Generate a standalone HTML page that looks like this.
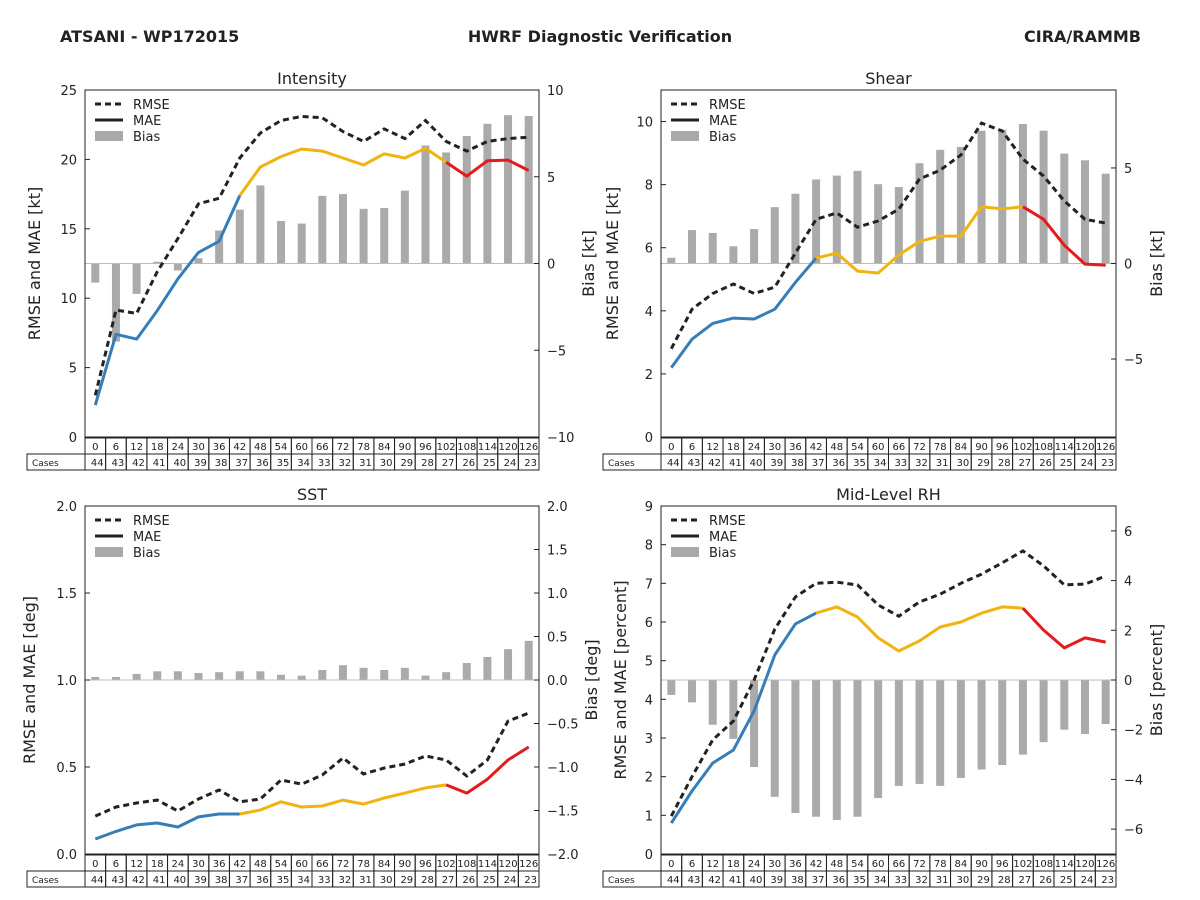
<!DOCTYPE html>
<html><head><meta charset="utf-8">
<style>
body{margin:0;background:#fff;}
svg{display:block;font-family:"DejaVu Sans","Liberation Sans",sans-serif;}
</style></head>
<body>
<svg id="chart" width="1200" height="900" viewBox="0 0 1200 900">
<text x="60" y="42" font-size="16" font-weight="bold" fill="#222">ATSANI - WP172015</text>
<text x="600" y="42" font-size="16" font-weight="bold" fill="#222" text-anchor="middle">HWRF Diagnostic Verification</text>
<text x="1141" y="42" font-size="16" font-weight="bold" fill="#222" text-anchor="end">CIRA/RAMMB</text>
</svg>
<script>
const leads=[0,6,12,18,24,30,36,42,48,54,60,66,72,78,84,90,96,102,108,114,120,126];
const cases=[44,43,42,41,40,39,38,37,36,35,34,33,32,31,30,29,28,27,26,25,24,23];
const intMAE=[2.3,7.4,7.05,9.1,11.4,13.3,14.1,17.4,19.45,20.2,20.75,20.6,20.1,19.6,20.4,20.1,20.8,19.8,18.8,19.9,19.95,19.2];
const intRMSE=[3.0,9.15,8.9,11.9,14.3,16.8,17.2,20.1,21.9,22.8,23.1,23.0,22.0,21.3,22.2,21.5,22.8,21.3,20.6,21.3,21.5,21.6];
const intBias=[-1.1,-4.5,-1.75,0.1,-0.4,0.3,1.9,3.1,4.5,2.45,2.3,3.9,4.0,3.15,3.2,4.2,6.8,6.4,7.35,8.05,8.55,8.5];
const shrMAE=[2.2,3.1,3.6,3.77,3.74,4.05,4.9,5.67,5.83,5.26,5.2,5.77,6.2,6.37,6.37,7.3,7.23,7.3,6.9,6.08,5.48,5.45];
const shrRMSE=[2.8,4.05,4.55,4.85,4.55,4.75,5.83,6.9,7.1,6.65,6.85,7.22,8.18,8.46,8.94,9.95,9.7,8.81,8.27,7.48,6.9,6.78];
const shrBias=[0.3,1.75,1.6,0.9,1.8,2.95,3.65,4.4,4.6,4.85,4.15,4.0,5.25,5.95,6.1,6.95,7.0,7.3,6.95,5.75,5.4,4.7];
const sstMAE=[0.086,0.13,0.167,0.178,0.155,0.213,0.23,0.23,0.253,0.3,0.27,0.276,0.31,0.287,0.322,0.35,0.38,0.397,0.35,0.43,0.54,0.615];
const sstRMSE=[0.218,0.27,0.293,0.31,0.247,0.316,0.368,0.3,0.316,0.425,0.402,0.454,0.552,0.46,0.494,0.517,0.563,0.54,0.448,0.54,0.764,0.81];
const sstBias=[0.035,0.035,0.07,0.1,0.1,0.08,0.09,0.1,0.1,0.06,0.05,0.115,0.17,0.14,0.115,0.14,0.05,0.09,0.195,0.265,0.355,0.45];
const rhMAE=[0.8,1.63,2.35,2.69,3.7,5.15,5.95,6.23,6.39,6.13,5.59,5.25,5.51,5.87,6.0,6.23,6.39,6.36,5.79,5.33,5.59,5.48];
const rhRMSE=[0.98,2.0,2.95,3.44,4.5,5.82,6.65,7.0,7.03,6.96,6.44,6.15,6.52,6.72,7.0,7.24,7.53,7.84,7.45,6.96,6.98,7.19];
const rhBias=[-0.6,-0.9,-1.8,-2.37,-3.5,-4.7,-5.35,-5.5,-5.63,-5.5,-4.75,-4.26,-4.18,-4.26,-3.94,-3.6,-3.42,-3.0,-2.5,-2.0,-2.17,-1.77];

const svg=document.getElementById('chart');
const NS='http://www.w3.org/2000/svg';
function mk(tag,attrs,parent,text){const e=document.createElementNS(NS,tag);for(const k in attrs)e.setAttribute(k,attrs[k]);if(text!==undefined)e.textContent=text;(parent||svg).appendChild(e);return e;}
function fmt(v,d){const s=v.toFixed(d);return s.replace('-','\u2212');}

const panels=[
 {key:'intensity',title:'Intensity',x0:85,x1:539,y0:90,y1:437,lmin:0,lmax:25,lt:[0,5,10,15,20,25],ld:0,rmin:-10,rmax:10,rt:[-10,-5,0,5,10],rd:0,ll:'RMSE and MAE [kt]',rl:'Bias [kt]',llx:40,rlx:594,mae:intMAE,rmse:intRMSE,bias:intBias},
 {key:'shear',title:'Shear',x0:661,x1:1116,y0:90,y1:437,lmin:0,lmax:11,lt:[0,2,4,6,8,10],ld:0,rmin:-9.08,rmax:9.08,rt:[-5,0,5],rd:0,ll:'RMSE and MAE [kt]',rl:'Bias [kt]',llx:618,rlx:1162,mae:shrMAE,rmse:shrRMSE,bias:shrBias},
 {key:'sst',title:'SST',x0:85,x1:539,y0:506,y1:854,lmin:0,lmax:2,lt:[0,0.5,1,1.5,2],ld:1,rmin:-2,rmax:2,rt:[-2,-1.5,-1,-0.5,0,0.5,1,1.5,2],rd:1,ll:'RMSE and MAE [deg]',rl:'Bias [deg]',llx:35,rlx:597,mae:sstMAE,rmse:sstRMSE,bias:sstBias},
 {key:'rh',title:'Mid-Level RH',x0:661,x1:1116,y0:506,y1:854,lmin:0,lmax:9,lt:[0,1,2,3,4,5,6,7,8,9],ld:0,rmin:-7,rmax:7,rt:[-6,-4,-2,0,2,4,6],rd:0,ll:'RMSE and MAE [percent]',rl:'Bias [percent]',llx:626,rlx:1162,mae:rhMAE,rmse:rhRMSE,bias:rhBias}
];
const BLUE='#377eb8',YEL='#f0b30f',RED='#e41a1c';

panels.forEach(p=>{
 const g=mk('g',{});
 
 
 const X=v=>p.x0+(v+3)/132*(p.x1-p.x0);
 const YL=v=>p.y1-(v-p.lmin)/(p.lmax-p.lmin)*(p.y1-p.y0);
 const YR=v=>p.y1-(v-p.rmin)/(p.rmax-p.rmin)*(p.y1-p.y0);
 const t=mk('text',{x:(p.x0+p.x1)/2,y:p.y0-6,'font-size':16,'text-anchor':'middle',fill:'#222'},g,p.title);
 
 
 // bars
 p.bias.forEach((b,i)=>{
  const y0=YR(0),y=YR(b);
  const r=mk('rect',{x:X(leads[i])-4,y:Math.min(y0,y),width:8,height:Math.abs(y-y0),fill:'#aaaaaa'},g);
  
  
 });
 const zl=mk('line',{x1:p.x0,x2:p.x1,y1:YR(0),y2:YR(0),stroke:'#bbb','stroke-width':1},g);
 
 
 // RMSE
 const rp=p.rmse.map((v,i)=>X(leads[i]).toFixed(1)+','+YL(v).toFixed(1)).join(' ');
 const rl=mk('polyline',{points:rp,fill:'none',stroke:'#222','stroke-width':3,'stroke-dasharray':'6,4'},g);
 
 
 // MAE segments
 [[0,7,BLUE,'blue'],[7,17,YEL,'yellow'],[17,21,RED,'red']].forEach(s=>{
  const pts=[];for(let i=s[0];i<=s[1];i++)pts.push(X(leads[i]).toFixed(1)+','+YL(p.mae[i]).toFixed(1));
  const l=mk('polyline',{points:pts.join(' '),fill:'none',stroke:s[2],'stroke-width':3,'stroke-linejoin':'round'},g);
  
  
 });
 // frame
 const fr=mk('rect',{x:p.x0,y:p.y0,width:p.x1-p.x0,height:p.y1-p.y0,fill:'none',stroke:'#222','stroke-width':1},g);
 
 
 // left ticks
 p.lt.forEach(v=>{
  const y=YL(v);
  mk('line',{x1:p.x0,x2:p.x0+5,y1:y,y2:y,stroke:'#222'},g);
  const tx=mk('text',{x:p.x0-8,y:y+5,'font-size':13,'text-anchor':'end',fill:'#222'},g,fmt(v,p.ld));
  
  
 });
 p.rt.forEach(v=>{
  const y=YR(v);
  mk('line',{x1:p.x1-5,x2:p.x1,y1:y,y2:y,stroke:'#222'},g);
  const tx=mk('text',{x:p.x1+8,y:y+5,'font-size':13,fill:'#222'},g,fmt(v,p.rd));
  
  
 });
 const cy=(p.y0+p.y1)/2;
 const la=mk('text',{x:p.llx,y:cy,'font-size':16,'text-anchor':'middle',fill:'#222',transform:`rotate(-90 ${p.llx} ${cy})`},g,p.ll);
 
 
 const ra=mk('text',{x:p.rlx,y:cy,'font-size':16,'text-anchor':'middle',fill:'#222',transform:`rotate(-90 ${p.rlx} ${cy})`},g,p.rl);
 
 
 // legend
 const lg=mk('g',{},g);
 
 
 const lx=p.x0+10,ly=p.y0+14;
 mk('line',{x1:lx,x2:lx+28,y1:ly,y2:ly,stroke:'#222','stroke-width':3,'stroke-dasharray':'6,4'},lg);
 mk('text',{x:lx+38,y:ly+5,'font-size':13,fill:'#222'},lg,'RMSE');
 mk('line',{x1:lx,x2:lx+28,y1:ly+16,y2:ly+16,stroke:'#222','stroke-width':3},lg);
 mk('text',{x:lx+38,y:ly+21,'font-size':13,fill:'#222'},lg,'MAE');
 mk('rect',{x:lx,y:ly+27,width:28,height:10,fill:'#aaaaaa'},lg);
 mk('text',{x:lx+38,y:ly+37,'font-size':13,fill:'#222'},lg,'Bias');
 // table
 const tb=mk('g',{},g);
 
 
 const r0=p.y1+1,r1=p.y1+17,r2=p.y1+33;
 mk('rect',{x:p.x0-58,y:r1,width:58,height:16,fill:'none',stroke:'#222'},tb);
 mk('text',{x:p.x0-53,y:r1+12,'font-size':9,fill:'#222'},tb,'Cases');
 leads.forEach((L,i)=>{
  const a=X(L-3),b=X(L+3);
  mk('rect',{x:a,y:r0,width:b-a,height:16,fill:'none',stroke:'#222'},tb);
  mk('rect',{x:a,y:r1,width:b-a,height:16,fill:'none',stroke:'#222'},tb);
  mk('text',{x:(a+b)/2,y:r0+12,'font-size':10,'text-anchor':'middle',fill:'#222'},tb,String(L));
  mk('text',{x:b-2,y:r1+12,'font-size':10,'text-anchor':'end',fill:'#222'},tb,String(cases[i]));
 });
});
</script>
</body></html>
